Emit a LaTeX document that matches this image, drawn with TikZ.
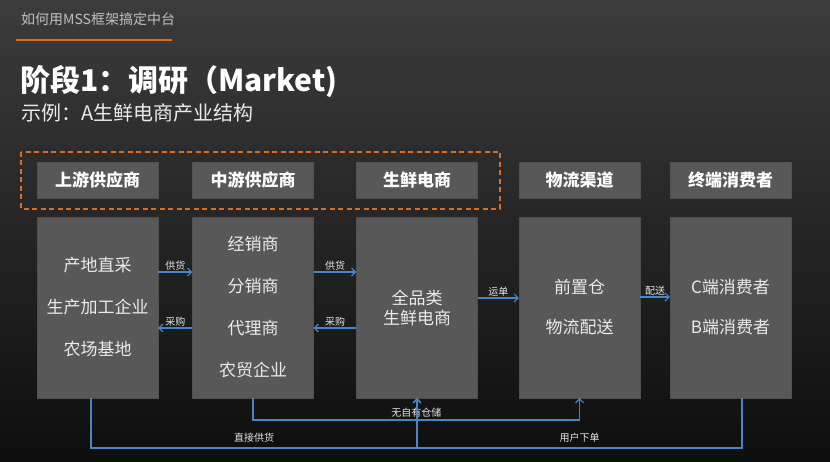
\documentclass[tikz,border=0pt]{standalone}
\usepackage{fontspec}
\setmainfont{Noto Sans CJK SC}
\usetikzlibrary{arrows.meta}
\definecolor{boxgrey}{RGB}{88,88,88}
\definecolor{edgegrey}{RGB}{80,80,80}
\definecolor{flowblue}{RGB}{74,134,196}
\definecolor{mssorange}{RGB}{214,112,38}
\definecolor{bgtop}{RGB}{60,60,60}
\definecolor{bgbottom}{RGB}{14,14,14}

\begin{document}
\begin{tikzpicture}[x=1pt,y=-1pt,
  box/.style={draw=edgegrey, fill=boxgrey, minimum width=121, minimum height=181, inner sep=0pt, align=center, text=white!92!black, font=\fontsize{17}{42}\selectfont},
  head/.style={draw=edgegrey, fill=boxgrey, minimum width=121, minimum height=36, inner sep=0pt, text=white, font=\fontsize{17}{20}\selectfont\bfseries},
  flow/.style={draw=flowblue, line width=1.1pt, -{Straight Barb[length=4pt,width=8pt]}},
  lab/.style={text=white!90!black, font=\fontsize{10}{12}\selectfont, inner sep=1pt}]

\useasboundingbox (0,0) rectangle (830,462);
\shade[top color=bgtop, bottom color=bgbottom] (0,0) rectangle (830,462);

\node[anchor=west, inner sep=0pt, text=white!75!black, font=\fontsize{14}{16}\selectfont] (header) at (21,19) {如何用MSS框架搞定中台};
\draw[mssorange, line width=2pt] (16,40) -- (172,40);

\node[anchor=west, inner sep=0pt, text=white, font=\fontsize{30}{36}\selectfont\bfseries] (title) at (20,82) {阶段1：调研（Market)};
\node[anchor=west, inner sep=0pt, text=white!92!black, font=\fontsize{20}{24}\selectfont] (subtitle) at (21,113) {示例：A生鲜电商产业结构};

\draw[mssorange, line width=1.3pt, dash pattern=on 5pt off 3.5pt] (21,152) rectangle (500,209);

\node[head] (hup) at (97.5,180) {上游供应商};
\node[head] (hmid) at (253,180) {中游供应商};
\node[head] (hfresh) at (417,180) {生鲜电商};
\node[head] (hlogi) at (579.5,180) {物流渠道};
\node[head] (hcons) at (730.5,180) {终端消费者};

\node[box] (up) at (97.5,307.5) {产地直采\\生产加工企业\\农场基地};
\node[box] (mid) at (253,307.5) {经销商\\分销商\\代理商\\农贸企业};
\node[box, font=\fontsize{17}{20}\selectfont] (fresh) at (417,307.5) {全品类\\生鲜电商};
\node[box, font=\fontsize{17}{40}\selectfont] (logi) at (579.5,307.5) {前置仓\\物流配送};
\node[box, font=\fontsize{17}{40}\selectfont] (cons) at (730.5,307.5) {C端消费者\\B端消费者};

\draw[flow] (up.east |- 0,272) -- node[lab,above]{供货} (mid.west |- 0,272);
\draw[flow] (mid.west |- 0,328) -- node[lab,above]{采购} (up.east |- 0,328);
\draw[flow] (mid.east |- 0,272) -- node[lab,above]{供货} (fresh.west |- 0,272);
\draw[flow] (fresh.west |- 0,328) -- node[lab,above]{采购} (mid.east |- 0,328);
\draw[flow] (fresh.east |- 0,298) -- node[lab,above]{运单} (logi.west |- 0,298);
\draw[flow] (logi.east |- 0,297) -- node[lab,above]{配送} (cons.west |- 0,297);

\coordinate (midline) at (0,420);
\coordinate (lowline) at (0,448);
\coordinate (upfoot) at ([xshift=-6.5pt]up.south);
\coordinate (consfoot) at ([xshift=11.5pt]cons.south);
\draw[flow] (mid.south) -- (mid.south |- midline) -| node[lab,pos=0.25,above=1pt]{无自有仓储} (logi.south);
\draw[flow] (upfoot) -- (upfoot |- lowline) -| node[lab,pos=0.25,above=4pt]{直接供货} (fresh.south);
\draw[flow] (consfoot) -- (consfoot |- lowline) -| node[lab,pos=0.25,above=4pt]{用户下单} (fresh.south);

\end{tikzpicture}
\end{document}
